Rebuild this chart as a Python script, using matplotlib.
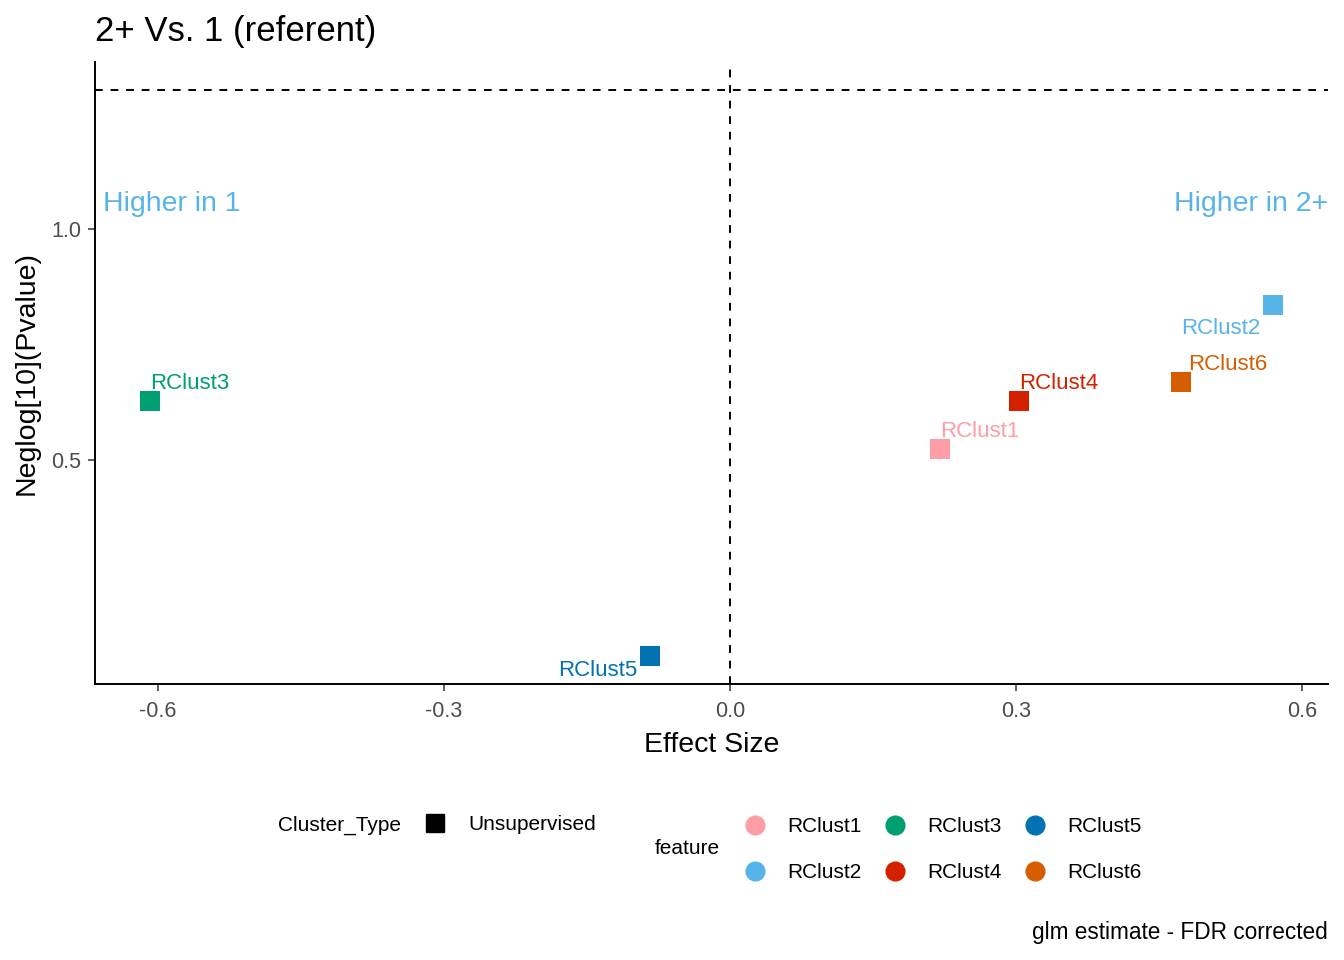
import matplotlib
matplotlib.use("Agg")
import matplotlib.pyplot as plt
from matplotlib.lines import Line2D

plt.rcParams['font.family'] = ['Liberation Sans', 'DejaVu Sans']

# ---- data ----
features = ["RClust1", "RClust2", "RClust3", "RClust4", "RClust5", "RClust6"]
effect_size = [0.220, 0.569, -0.608, 0.303, -0.084, 0.473]
neglog_p = [0.524, 0.835, 0.628, 0.628, 0.076, 0.669]
colors = ["#FF9DA7", "#56B4E9", "#009E73", "#D52000", "#0072B2", "#D55E00"]
cluster_type = "Unsupervised"
x_ticks = [-0.6, -0.3, 0.0, 0.3, 0.6]
y_ticks = [0.5, 1.0]
sig_line = 1.301  # -log10(0.05)

# label placement style (offset in points, alignment)
label_style = {
    "RClust1": dict(off=(0, 5), ha="left", va="bottom"),
    "RClust2": dict(off=(-9, -9), ha="right", va="top"),
    "RClust3": dict(off=(0, 5), ha="left", va="bottom"),
    "RClust4": dict(off=(0, 5), ha="left", va="bottom"),
    "RClust5": dict(off=(-9, -3), ha="right", va="top"),
    "RClust6": dict(off=(5, 5), ha="left", va="bottom"),
}

fig = plt.figure(figsize=(13.44, 9.6), dpi=100)
ax = fig.add_axes([95/1344, 1-684/960, (1328-95)/1344, (684-62)/960])

for f, x, y, c in zip(features, effect_size, neglog_p, colors):
    ax.scatter([x], [y], marker="s", s=190, color=c, linewidths=0, zorder=3)
    st = label_style[f]
    ax.annotate(f, (x, y), xytext=st["off"], textcoords="offset points",
                ha=st["ha"], va=st["va"], color=c, fontsize=16, zorder=4)

ax.axhline(sig_line, color="black", linestyle=(0, (4, 4)), linewidth=1.4)
ax.axvline(0, color="black", linestyle=(0, (4, 4)), linewidth=1.4)

ax.set_xlim(-0.666, 0.627)
ax.set_ylim(0.015, 1.361)

ax.text(-0.658, 1.054, "Higher in 1", color="#56B4E9", fontsize=20.5,
        ha="left", va="center")
ax.text(0.627, 1.054, "Higher in 2+", color="#56B4E9", fontsize=20.5,
        ha="right", va="center")

ax.set_xticks(x_ticks)
ax.set_xticklabels([f"{v:.1f}" for v in x_ticks])
ax.set_yticks(y_ticks)
ax.set_yticklabels([f"{v:.1f}" for v in y_ticks])
ax.tick_params(axis="both", colors="#333333", labelcolor="#4D4D4D",
               labelsize=15.5, length=5, width=1.1)
ax.tick_params(axis="x", pad=7.5)
ax.tick_params(axis="y", pad=5)
for s in ["top", "right"]:
    ax.spines[s].set_visible(False)
for s in ["left", "bottom"]:
    ax.spines[s].set_linewidth(1.4)
    ax.spines[s].set_color("black")

ax.set_xlabel("Effect Size", fontsize=20.5, labelpad=7)
ax.set_ylabel("Neglog[10](Pvalue)", fontsize=20.5, labelpad=8)

fig.text(95/1344, 1-31/960, "2+ Vs. 1 (referent)", fontsize=25,
         ha="left", va="center")

# legends
fig.text(278/1344, 1-825/960, "Cluster_Type", fontsize=15, ha="left", va="center")
h1 = [Line2D([], [], marker="s", linestyle="none", color="black", markersize=13.5)]
fig.legend(h1, [cluster_type], loc="center left",
           bbox_to_anchor=(422/1344, 1-825/960), frameon=False, fontsize=15,
           handlelength=1.2, handletextpad=1.05, borderpad=0, borderaxespad=0)

fig.text(655/1344, 1-849/960, "feature", fontsize=15, ha="left", va="center")
h2 = [Line2D([], [], marker="o", linestyle="none", color=c, markersize=13.5)
      for c in colors]
fig.legend(h2, features, loc="center left", ncol=3,
           bbox_to_anchor=(742/1344, 1-849.5/960), frameon=False, fontsize=15,
           handlelength=1.2, handletextpad=0.95, columnspacing=1.0,
           labelspacing=1.3, borderpad=0, borderaxespad=0)

fig.text(1328/1344, 1-933/960, "glm estimate - FDR corrected", fontsize=16.3,
         ha="right", va="center")

fig.savefig("out.png", dpi=100)
